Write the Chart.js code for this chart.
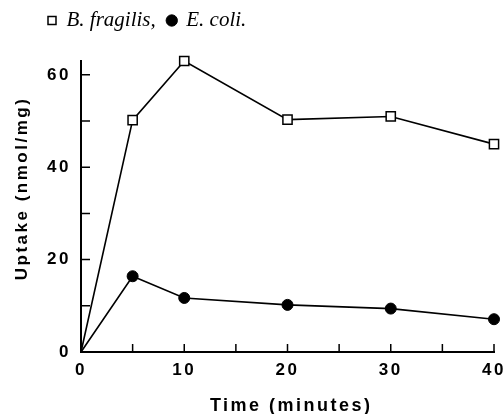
<!DOCTYPE html>
<html>
<head>
<meta charset="utf-8">
<script src="https://cdn.jsdelivr.net/npm/chart.js@4/dist/chart.umd.min.js"></script>
<style>
  html, body { margin: 0; padding: 0; background: #fff; }
</style>
</head>
<body>
<canvas id="myChart" width="504" height="414"></canvas>
<script>
// DATOS
const tiempos = [0, 5, 10, 20, 30, 40];
const captacionFragilis = [0, 50.2, 63, 50.3, 51, 45];
const captacionColi = [0, 16.4, 11.7, 10.2, 9.4, 7.1];
const etiquetasX = [0, 10, 20, 30, 40];
const etiquetasY = [0, 20, 40, 60];
const marcasX = [5, 10, 15, 20, 25, 30, 35, 40];
const marcasY = [10, 20, 30, 40, 50, 60];

const fuenteEje = { family: "Liberation Sans", weight: "bold", size: 17 };

function armarPuntos(valores) {
    return tiempos.map((t, i) => ({ x: t, y: valores[i] }));
}

function moverLeyenda(chart) {
    if (chart.legend) {
        chart.legend.left = 36;
        chart.legend.top = -2;
    }
}

// marcas hacia adentro sobre los ejes
const marcasInternas = {
    id: "marcasInternas",
    afterLayout: moverLeyenda,
    beforeDraw: moverLeyenda,
    afterDatasetsDraw(chart) {
        const { ctx, scales: { x, y } } = chart;
        const x0 = x.getPixelForValue(0);
        const y0 = y.getPixelForValue(0);
        ctx.save();
        ctx.strokeStyle = "#000";
        ctx.lineWidth = 1.5;
        ctx.beginPath();
        marcasX.forEach(v => {
            const px = x.getPixelForValue(v);
            ctx.moveTo(px, y0);
            ctx.lineTo(px, y0 - 8);
        });
        marcasY.forEach(v => {
            const py = y.getPixelForValue(v);
            ctx.moveTo(x0, py);
            ctx.lineTo(x0 + 9, py);
        });
        ctx.stroke();
        ctx.restore();
        // textos de ejes con espaciado (se dibujan despues, z = 1)
        ctx.letterSpacing = "2.5px";
    },
    afterDraw(chart) {
        chart.ctx.letterSpacing = "0px";
    }
};

const config = {
    type: "line",
    data: {
        datasets: [{
            label: "B. fragilis,",
            data: armarPuntos(captacionFragilis),
            borderColor: "#000",
            backgroundColor: "#fff",
            borderWidth: 1.6,
            pointStyle: "rect",
            pointRadius: [0, 6.5, 6.5, 6.5, 6.5, 6.5],
            pointBackgroundColor: "#fff",
            pointBorderColor: "#000",
            pointBorderWidth: 1.5,
            clip: false
        }, {
            label: "E. coli.",
            data: armarPuntos(captacionColi),
            borderColor: "#000",
            backgroundColor: "#000",
            borderWidth: 1.6,
            pointStyle: "circle",
            pointRadius: [0, 5.5, 5.5, 5.5, 5.5, 5.5],
            pointBackgroundColor: "#000",
            pointBorderColor: "#000",
            pointBorderWidth: 1,
            clip: false
        }]
    },
    options: {
        responsive: false,
        animation: false,
        devicePixelRatio: 1,
        layout: { padding: { top: 18, right: 0, left: 0, bottom: 0 } },
        plugins: {
            tooltip: { enabled: false },
            legend: {
                position: "top",
                align: "start",
                labels: {
                    usePointStyle: true,
                    boxWidth: 8,
                    boxHeight: 8,
                    padding: 12,
                    color: "#000",
                    font: { family: "Liberation Serif", style: "italic", size: 21 }
                }
            }
        },
        scales: {
            x: {
                type: "linear",
                min: 0,
                max: 40,
                afterBuildTicks: s => { s.ticks = etiquetasX.map(v => ({ value: v })); },
                afterFit: s => { s.height = 62; s.paddingLeft = 0; s.paddingRight = 10; },
                grid: { display: false, drawTicks: false, z: 1 },
                border: { display: true, color: "#000", width: 2, z: 1 },
                ticks: { color: "#000", font: fuenteEje, padding: 8, maxRotation: 0, z: 1 },
                title: { display: true, text: " Time (minutes)", color: "#000", font: { family: "Liberation Sans", weight: "bold", size: 18 }, padding: { top: 0, bottom: -3 } }
            },
            y: {
                type: "linear",
                min: 0,
                max: 63,
                afterBuildTicks: s => { s.ticks = etiquetasY.map(v => ({ value: v })); },
                afterFit: s => { s.width = 81; s.paddingTop = 0; s.paddingBottom = 0; },
                grid: { display: false, drawTicks: false, z: 1 },
                border: { display: true, color: "#000", width: 2, z: 1 },
                ticks: { color: "#000", font: fuenteEje, padding: 10, z: 1 },
                title: { display: true, text: "     Uptake (nmol/mg)", color: "#000", font: fuenteEje, padding: { top: 12, bottom: 0 } }
            }
        }
    },
    plugins: [marcasInternas]
};

new Chart(document.getElementById("myChart"), config);
</script>
</body>
</html>
